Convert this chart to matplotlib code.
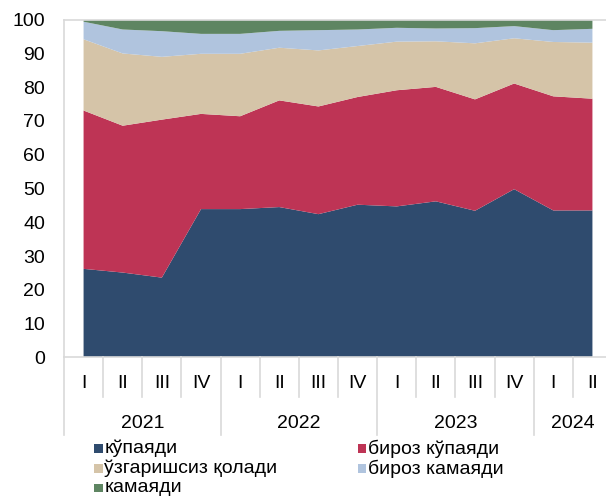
import matplotlib
matplotlib.use("Agg")
import matplotlib.pyplot as plt
from matplotlib.patches import Rectangle
from matplotlib.lines import Line2D
import numpy as np

plt.rcParams['font.family'] = ['Liberation Sans', 'DejaVu Sans']

# ---- data ----
years = ["2021", "2022", "2023", "2024"]
quarters = ["I", "II", "III", "IV", "I", "II", "III", "IV",
            "I", "II", "III", "IV", "I", "II"]
year_counts = [4, 4, 4, 2]

series_names = ["кўпаяди", "бироз кўпаяди", "ўзгаришсиз қолади",
                "бироз камаяди", "камаяди"]
kupayadi = [26.2, 25.1, 23.6, 43.9, 43.9, 44.5, 42.4, 45.2, 44.7, 46.2, 43.4, 49.8, 43.5, 43.5]
biroz_kupayadi = [46.9, 43.5, 46.8, 28.2, 27.5, 31.6, 31.9, 31.9, 34.4, 33.9, 33.0, 31.3, 33.8, 33.1]
uzgarishsiz = [21.1, 21.4, 18.6, 17.8, 18.5, 15.6, 16.6, 15.1, 14.4, 13.5, 16.6, 13.4, 16.1, 16.6]
biroz_kamayadi = [5.2, 7.1, 7.6, 5.9, 5.9, 5.0, 6.0, 4.9, 4.1, 3.8, 4.5, 3.6, 3.5, 4.1]
kamayadi = [0.6, 2.9, 3.4, 4.2, 4.2, 3.3, 3.1, 2.9, 2.4, 2.6, 2.5, 1.9, 3.1, 2.7]

colors = ["#2F4B6E", "#BE3455", "#D5C4A8", "#B0C4DE", "#5E8562"]
grid_col = "#D9D9D9"

W, H = 606, 496
fig = plt.figure(figsize=(W / 100, H / 100), dpi=100)

x0, x1 = 64, 612   # pixel span of category axis (-0.5 .. 13.5)
y0, y1 = 357.3, 19.7
ax = fig.add_axes([x0 / W, (H - y0) / H, (x1 - x0) / W, (y0 - y1) / H])

x = np.arange(len(quarters))
polys = ax.stackplot(x, kupayadi, biroz_kupayadi, uzgarishsiz, biroz_kamayadi,
                     kamayadi, colors=colors, linewidth=0)

ax.set_xlim(-0.5, len(quarters) - 0.5)
ax.set_ylim(0, 100)
ax.set_yticks(np.arange(0, 101, 10))
ax.tick_params(axis='y', length=0, pad=13.5, labelsize=14, colors="#000000")
ax.set_xticks([])

ax.spines["right"].set_visible(False)
for s in ["left", "top", "bottom"]:
    ax.spines[s].set_color(grid_col)
    ax.spines[s].set_linewidth(1.2)

# multi-level category axis
trans = ax.get_xaxis_transform()
px = 1.0 / (y0 - y1)  # axes fraction per pixel
minor_len = (396.7 - y0) * px
major_len = (435 - y0) * px
boundaries = np.arange(len(quarters) + 1) - 0.5
major_b = set(np.cumsum([0] + year_counts) - 0.5)
for b in boundaries[:-1]:
    L = major_len if b in major_b else minor_len
    ax.add_line(Line2D([b, b], [0, -L], transform=trans, color=grid_col,
                       lw=1.2, clip_on=False))
for i, q in enumerate(quarters):
    ax.text(i, -(383 - y0) * px, q, transform=trans, ha='center', va='center',
            fontsize=14, clip_on=False)
start = 0
for yr, n in zip(years, year_counts):
    c = start + (n - 1) / 2
    ax.text(c, -(423 - y0) * px, yr, transform=trans, ha='center', va='center',
            fontsize=14, clip_on=False)
    start += n

# legend (two columns, manual layout)
order = [0, 2, 4, 1, 3]
col_x = [94.3, 358.0]
row_y = [448.5, 468.5, 488.0]
for k, idx in enumerate(order):
    col = 0 if k < 3 else 1
    row = k if k < 3 else k - 3
    mx, my = col_x[col], row_y[row]
    sq = 8.2
    fig.patches.append(Rectangle((mx / W, (H - my - sq / 2) / H), sq / W, sq / H,
                                 transform=fig.transFigure, facecolor=colors[idx],
                                 edgecolor='none'))
    fig.text((mx + 10) / W, (H - my) / H, series_names[idx], ha='left',
             va='center', fontsize=14)

fig.savefig("out.png", dpi=100)
